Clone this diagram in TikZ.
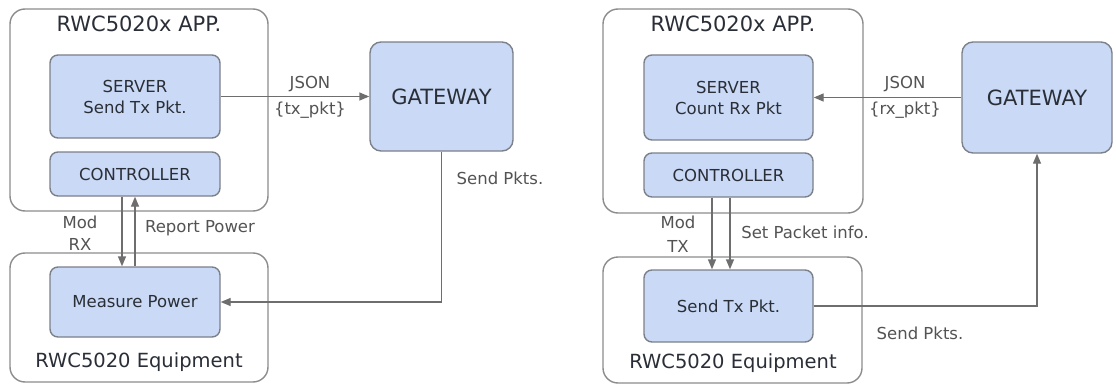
\documentclass[tikz,border=0pt]{standalone}
\usepackage{fontspec}
\setmainfont{DejaVu Sans}
\usetikzlibrary{arrows.meta}
\definecolor{boxfill}{HTML}{C9D9F6}
\definecolor{boxline}{HTML}{7C8089}
\definecolor{outline}{HTML}{8C8C8C}
\definecolor{txt}{HTML}{2A2E36}
\definecolor{conn}{HTML}{6E6E6E}
\tikzset{
  outerbox/.style={draw=outline, line width=1.4pt, fill=white, rounded corners=15pt, inner sep=0pt},
  innerbox/.style={draw=boxline, line width=1.4pt, fill=boxfill, rounded corners=8pt, inner sep=0pt, align=center, text=txt, font=\fontsize{16.5}{21}\selectfont},
  gwbox/.style={draw=boxline, line width=1.4pt, fill=boxfill, rounded corners=11pt, inner sep=0pt, text=txt, font=\fontsize{21}{24}\selectfont},
  title/.style={text=txt, inner sep=0pt, font=\fontsize{21}{24}\selectfont},
  lbl/.style={text=conn!75!black, inner sep=0pt, align=center, font=\fontsize{16.5}{21}\selectfont},
  conn/.style={draw=conn, line width=1.4pt},
  arr/.style={conn, -{Triangle[length=10pt,width=8pt]}}
}
\begin{document}
\begin{tikzpicture}[x=1pt,y=-1pt]
\useasboundingbox (0,0) rectangle (1116,385);
% ---------- left ----------
\node[outerbox, minimum width=258pt, minimum height=202pt] (app1) at (139,110) {};
\node[title] (t1) at (139,24) {RWC5020x APP.};
\node[innerbox, minimum width=170pt, minimum height=83pt] (srv1) at (135,96.5) {SERVER\\Send Tx Pkt.};
\node[innerbox, minimum width=170pt, minimum height=44pt] (ctl1) at (135,174) {CONTROLLER};
\node[outerbox, minimum width=258pt, minimum height=129pt] (eq1) at (139,317.5) {};
\node[innerbox, minimum width=170pt, minimum height=70pt] (meas1) at (135,302) {Measure Power};
\node[title, font=\fontsize{19.5}{22}\selectfont] (e1) at (139,362) {RWC5020 Equipment};
\node[gwbox, minimum width=143pt, minimum height=109pt] (gw1) at (441.5,96.5) {GATEWAY};

\draw[arr] (srv1.east) -- (gw1.west);
\node[lbl] (json1) at (310,84) {JSON};
\node[lbl] (pk1) at (310,110) {\{tx\_pkt\}};
\draw[arr] (gw1.south) |- (meas1.east);
\node[lbl] (sp1) at (500,178) {Send Pkts.};
\draw[arr] ([xshift=-13pt]ctl1.south) -- ([xshift=-13pt]meas1.north);
\draw[arr] (meas1.north) -- (ctl1.south);
\node[lbl] (mod1) at (80,222) {Mod};
\node[lbl] (rx1) at (80,244) {RX};
\node[lbl] (rp1) at (200,228) {Report Power};
% ---------- right ----------
\node[outerbox, minimum width=260pt, minimum height=204pt] (app2) at (733,111) {};
\node[title] (t2) at (733,24) {RWC5020x APP.};
\node[innerbox, minimum width=169pt, minimum height=85pt] (srv2) at (728.5,97.5) {SERVER\\Count Rx Pkt};
\node[innerbox, minimum width=169pt, minimum height=44pt] (ctl2) at (728.5,175) {CONTROLLER};
\node[outerbox, minimum width=259pt, minimum height=126pt] (eq2) at (732.5,320) {};
\node[innerbox, minimum width=169pt, minimum height=72pt] (stx2) at (728.5,306) {Send Tx Pkt.};
\node[title, font=\fontsize{19.5}{22}\selectfont] (e2) at (733,363) {RWC5020 Equipment};
\node[gwbox, minimum width=150pt, minimum height=111pt] (gw2) at (1037,97.5) {GATEWAY};

\draw[arr] (gw2.west) -- (srv2.east);
\node[lbl] (json2) at (905,84) {JSON};
\node[lbl] (pk2) at (905,110) {\{rx\_pkt\}};
\draw[arr] (stx2.east) -| (gw2.south);
\node[lbl] (sp2) at (920,333) {Send Pkts.};
\draw[arr] ([xshift=-16.5pt]ctl2.south) -- ([xshift=-16.5pt]stx2.north);
\draw[arr] ([xshift=1.5pt]ctl2.south) -- ([xshift=1.5pt]stx2.north);
\node[lbl] (mod2) at (678,222) {Mod};
\node[lbl] (tx2) at (678,246) {TX};
\node[lbl] (spi2) at (805,232) {Set Packet info.};
\end{tikzpicture}
\end{document}
